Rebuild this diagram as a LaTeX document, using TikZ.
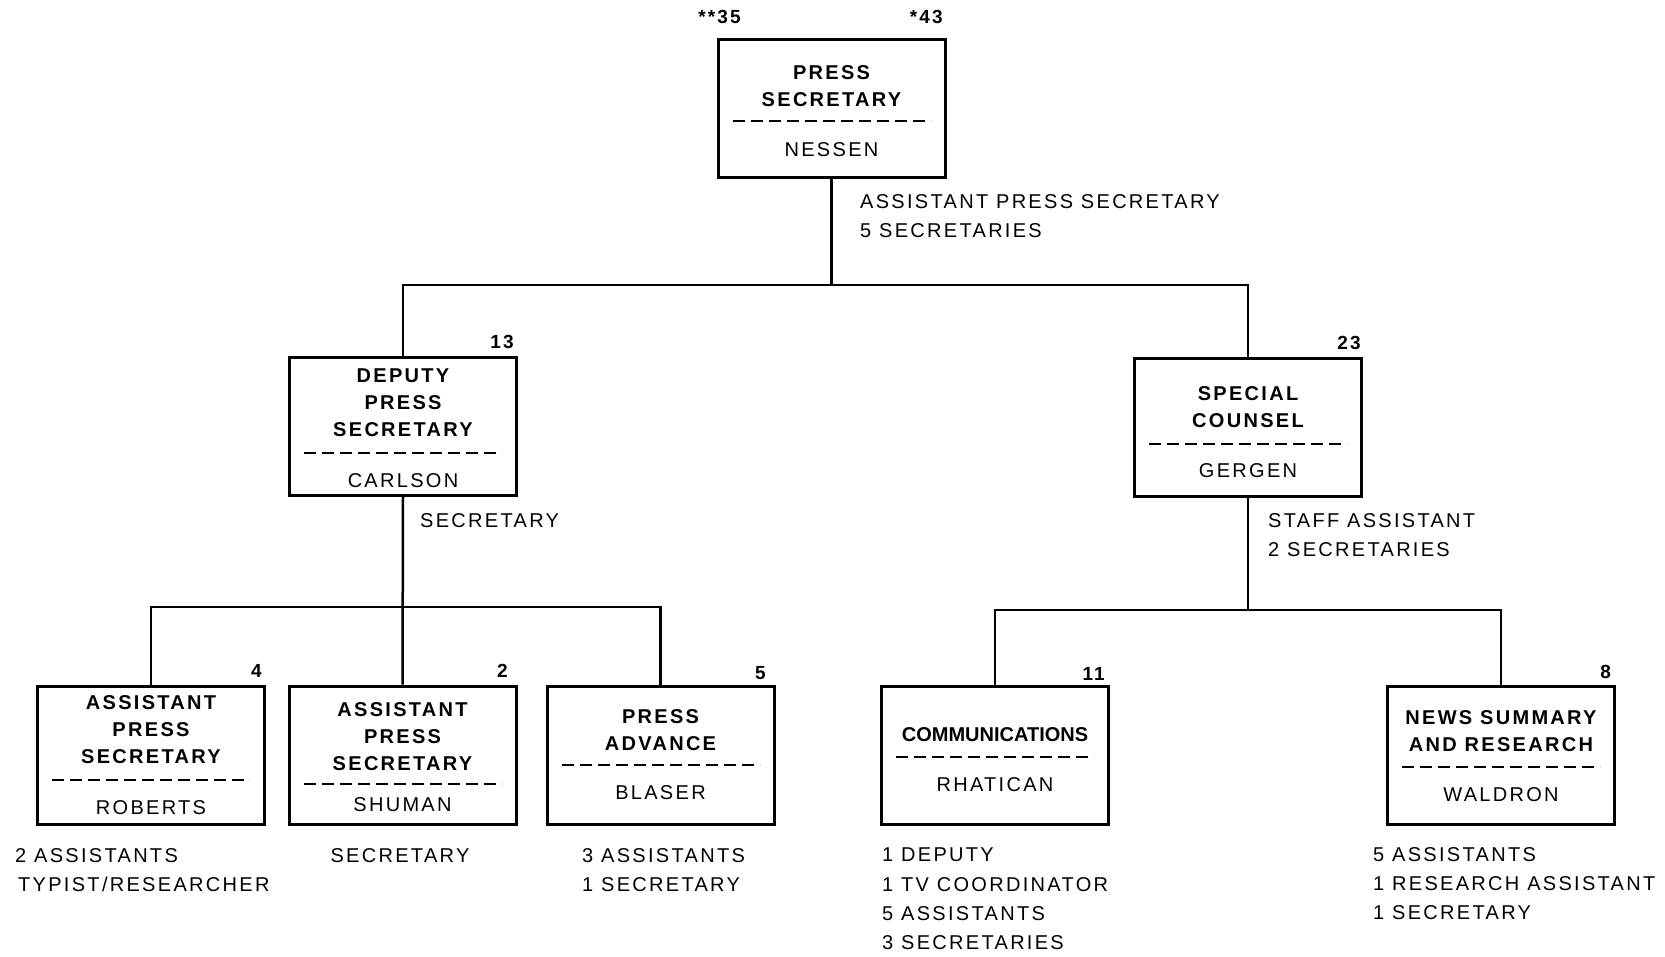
\documentclass[tikz,border=0pt]{standalone}
\usepackage{fontspec}
\setmainfont{Liberation Sans}[LetterSpace=11.5]
\newfontfamily\tightfont{Liberation Sans}
\begin{document}
\begin{tikzpicture}[x=1pt,y=-1pt,
  box/.style={draw, line width=3pt, minimum width=227pt, minimum height=138pt, inner sep=0pt},
  link/.style={line width=2.5pt},
  sep/.style={line width=2pt, dash pattern=on 12pt off 6pt},
  ttl/.style={anchor=north, align=center, inner sep=0pt, font=\bfseries\fontsize{20}{27}\selectfont},
  who/.style={anchor=north, inner sep=0pt, font=\fontsize{20}{27}\selectfont},
  cnt/.style={anchor=south east, inner sep=0pt, font=\bfseries\fontsize{19}{20}\selectfont},
  note/.style={anchor=north west, align=left, inner sep=0pt, font=\fontsize{20}{29.3}\selectfont},
]
\useasboundingbox[fill=white] (0,0) rectangle (1665,956);

% ---- boxes ----
\node[box] (ps)  at (831.5,108) {};
\node[box] (dep) at (403,426.5) {};
\node[box] (spc) at (1248,427) {};
\node[box] (rob) at (151,755) {};
\node[box] (shu) at (402.5,755) {};
\node[box] (bla) at (660.5,755) {};
\node[box] (rha) at (995,755) {};
\node[box] (wal) at (1501,755) {};

% ---- box contents ----
\node[ttl] (psT) at (831.5,65) {PRESS\\SECRETARY};
\draw[sep] (732.5,121) -- (930.5,121);
\node[who] (psN) at (831.5,142) {NESSEN};

\node[ttl] (depT) at (403,369) {DEPUTY\\PRESS\\SECRETARY};
\draw[sep] (304,453) -- (502,453);
\node[who] (depN) at (403,473) {CARLSON};

\node[ttl] (spcT) at (1248,386) {SPECIAL\\COUNSEL};
\draw[sep] (1149,444) -- (1347,444);
\node[who] (spcN) at (1248,463) {GERGEN};

\node[ttl] (robT) at (151,695) {ASSISTANT\\PRESS\\SECRETARY};
\draw[sep] (52,780) -- (250,780);
\node[who] (robN) at (151,800) {ROBERTS};

\node[ttl] (shuT) at (402.5,702) {ASSISTANT\\PRESS\\SECRETARY};
\draw[sep] (303.5,784) -- (501.5,784);
\node[who] (shuN) at (402.5,797) {SHUMAN};

\node[ttl] (blaT) at (660.5,709) {PRESS\\ADVANCE};
\draw[sep] (561.5,765) -- (759.5,765);
\node[who] (blaN) at (660.5,785) {BLASER};

\node[ttl,font=\tightfont\bfseries\fontsize{20}{27}\selectfont] (rhaT) at (995,727) {COMMUNICATIONS};
\draw[sep] (896,757) -- (1094,757);
\node[who] (rhaN) at (995,777) {RHATICAN};

\node[ttl] (walT) at (1501,710) {NEWS SUMMARY\\AND RESEARCH};
\draw[sep] (1402,767) -- (1600,767);
\node[who] (walN) at (1501,787) {WALDRON};

% ---- staff counts ----
\node[cnt,anchor=south] (c35) at (719.5,24) {**35};
\node[cnt] (c43) at (943,24) {*43};
\node[cnt] (c13) at (514,349) {13};
\node[cnt] (c23) at (1361,350) {23};
\node[cnt] (c4)  at (262,678) {4};
\node[cnt] (c2)  at (508,678) {2};
\node[cnt] (c5)  at (766,680) {5};
\node[cnt] (c11) at (1105,681) {11};
\node[cnt] (c8)  at (1611,679) {8};

% ---- connectors ----
\coordinate (j1) at (831.5,285);
\coordinate (j2) at (403,607);
\coordinate (j3) at (1248,610);
\draw[link] (ps.south) -- (j1);
\draw[link] (dep.north) |- (j1) -| (spc.north);
\draw[link] (dep.south) -- (shu.north);
\draw[link] (rob.north) |- (j2) -| (bla.north);
\draw[link] (spc.south) -- (j3);
\draw[link] (rha.north) |- (j3) -| (wal.north);

% ---- staff notes ----
\node[note] (psS)  at (860,194) {ASSISTANT PRESS SECRETARY\\5 SECRETARIES};
\node[note] (depS) at (420,513) {SECRETARY};
\node[note] (spcS) at (1268,513) {STAFF ASSISTANT\\2 SECRETARIES};
\node[note] (robS) at (15,848) {2 ASSISTANTS\\\hspace*{3pt}TYPIST/RESEARCHER};
\node[note,anchor=north] (shuS) at (400,848) {SECRETARY};
\node[note] (blaS) at (582,848) {3 ASSISTANTS\\1 SECRETARY};
\node[note] (rhaS) at (882,848) {1 DEPUTY\\1 TV COORDINATOR\\5 ASSISTANTS\\3 SECRETARIES};
\node[note] (walS) at (1373,847) {5 ASSISTANTS\\1 RESEARCH ASSISTANT\\1 SECRETARY};
\end{tikzpicture}
\end{document}
